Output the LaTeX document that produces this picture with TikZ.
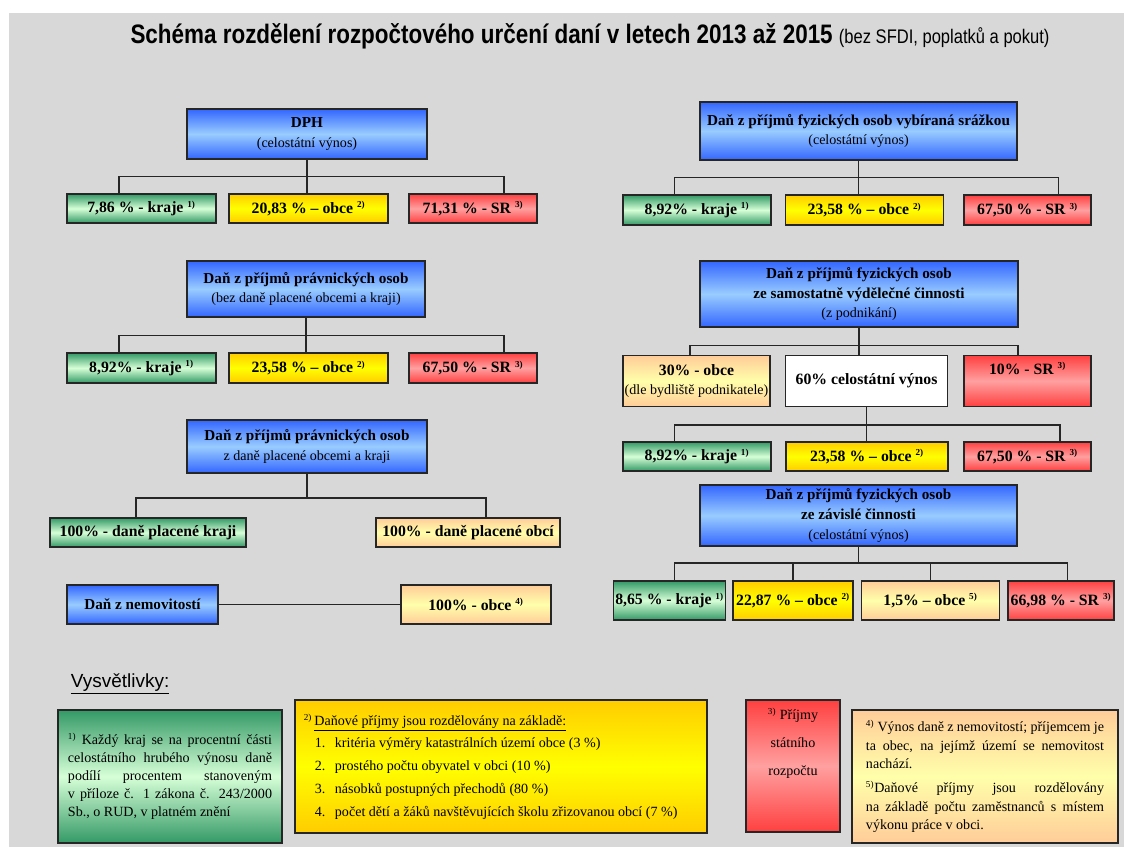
\documentclass[tikz,border=0pt]{standalone}
\usepackage{fontspec}
\setmainfont{Liberation Serif}
\newfontfamily\titlefont[FakeStretch=0.84]{Liberation Sans}
\newfontfamily\legfont{Liberation Sans}
\definecolor{bggray}{RGB}{216,216,216}
\definecolor{blueTop}{RGB}{51,102,255}
\definecolor{blueMid}{RGB}{153,204,255}
\definecolor{greenTop}{RGB}{51,153,102}
\definecolor{greenMid}{RGB}{215,255,215}
\definecolor{yellowTop}{RGB}{255,204,0}
\definecolor{yellowMid}{RGB}{255,255,0}
\definecolor{redTop}{RGB}{255,64,64}
\definecolor{redMid}{RGB}{255,160,160}
\definecolor{peachTop}{RGB}{255,204,153}
\definecolor{peachMid}{RGB}{255,255,170}
\usepackage{tikz}
\usetikzlibrary{positioning, calc}
\newcommand{\px}{0.025cm}
\newcommand{\fn}[1]{\textsuperscript{\fontsize{6.5}{7}\selectfont #1)}}
\newcommand{\pozn}[1]{{\mdseries\fontsize{10}{14}\selectfont #1}}
\newcommand{\jl}[1]{\makebox[\linewidth][s]{#1}}
\tikzset{
    box/.style={rectangle, draw=black!85, line width=0.9pt, align=center, inner sep=1pt, font=\fontsize{11.2}{14}\selectfont\bfseries},
    wh/.style 2 args={minimum width=#1*\px, minimum height=#2*\px},
    dan/.style={box, top color=blueTop, bottom color=blueTop, middle color=blueMid, font=\fontsize{10.8}{14}\selectfont\bfseries},
    kraje/.style={box, top color=greenTop, bottom color=greenTop, middle color=greenMid},
    obce/.style={box, top color=yellowTop, bottom color=yellowTop, middle color=yellowMid},
    obcep/.style={box, top color=peachTop, bottom color=peachTop, middle color=peachMid},
    sr/.style={box, top color=redTop, bottom color=redTop, middle color=redMid},
    vynos/.style={box, fill=white},
    conn/.style={line width=1pt, black!85},
    note/.style={rectangle, draw=black!85, line width=0.9pt, inner sep=0pt, font=\fontsize{10}{12.8}\selectfont}
}

\begin{document}
\begin{tikzpicture}[x=\px, y=-\px]
    \useasboundingbox (0,0) rectangle (1124,847);
    \fill[bggray] (9,13) rectangle (1124,847);

    % Title
    \node[font=\titlefont\bfseries\fontsize{19}{22}\selectfont] (title) at (590,36) {Schéma rozdělení rozpočtového určení daní v letech 2013 až 2015 {\mdseries\fontsize{14}{16}\selectfont (bez SFDI, poplatků a pokut)}};

    % DPH
    \node[dan, wh={240}{50}] (dph) at (307,134) {DPH\\ \pozn{(celostátní výnos)}};
    \node[kraje, wh={149}{29}] (kr1) at (141.5,208.5) {7,86 \% - kraje \fn{1}};
    \node[obce, wh={159}{29}] (ob1) at (308.5,208.5) {20,83 \% – obce \fn{2}};
    \node[sr, wh={128}{29}] (sr1) at (473,208.5) {71,31 \% - SR \fn{3}};

    % DPPO
    \node[dan, wh={238}{56}] (ppo) at (306,289) {Daň z příjmů právnických osob\\ \pozn{(bez daně placené obcemi a kraji)}};
    \node[kraje, wh={149}{30}] (kr2) at (141.5,368) {8,92\% - kraje \fn{1}};
    \node[obce, wh={159}{30}] (ob2) at (308.5,368) {23,58 \% – obce \fn{2}};
    \node[sr, wh={128}{30}] (sr2) at (473,368) {67,50 \% - SR \fn{3}};

    % DPPO placena obcemi a kraji
    \node[dan, wh={240}{53}] (ppo2) at (307,446.5) {Daň z příjmů právnických osob\\ \pozn{z daně placené obcemi a kraji}};
    \node[kraje, wh={196}{29}] (krd) at (148,532.5) {100\% - daně placené kraji};
    \node[obcep, wh={184}{29}] (obd) at (468,532.5) {100\% - daně placené obcí};

    % Dan z nemovitosti
    \node[dan, wh={151}{39}] (dzn) at (142.5,604.5) {Daň z nemovitostí};
    \node[obcep, wh={150}{39}] (obn) at (476,604.5) {100\% - obce \fn{4}};

    % DPFO srazkou
    \node[dan, wh={317}{58}] (fos) at (858.5,131) {Daň z příjmů fyzických osob vybíraná srážkou\\ \pozn{(celostátní výnos)}};
    \node[kraje, wh={148}{30}] (kr3) at (697,210) {8,92\% - kraje \fn{1}};
    \node[obce, wh={158}{30}] (ob3) at (864.5,210) {23,58 \% – obce \fn{2}};
    \node[sr, wh={127}{30}] (sr3) at (1027.5,210) {67,50 \% - SR \fn{3}};

    % DPFO z podnikani
    \node[dan, wh={318}{66}] (svc) at (859,294) {Daň z příjmů fyzických osob\\ ze samostatně výdělečné činnosti\\ \pozn{(z podnikání)}};
    \node[obcep, wh={147}{51}] (obb) at (696.5,381) {30\% - obce\\ \pozn{(dle bydliště podnikatele)}};
    \node[vynos, wh={162}{51}] (cv) at (866.5,381) {60\% celostátní výnos};
    \node[sr, wh={127}{51}] (srb) at (1027.5,381) {10\% - SR \fn{3}\\ \strut};
    \node[kraje, wh={148}{29}] (kr4) at (697,456.5) {8,92\% - kraje \fn{1}};
    \node[obce, wh={162}{29}] (ob4) at (867,456.5) {23,58 \% – obce \fn{2}};
    \node[sr, wh={127}{29}] (sr4) at (1027.5,456.5) {67,50 \% - SR \fn{3}};

    % DPFO ze zavisle cinnosti
    \node[dan, wh={317}{61}] (zc) at (858.5,515.5) {Daň z příjmů fyzických osob\\ ze závislé činnosti\\ \pozn{(celostátní výnos)}};
    \node[kraje, wh={111}{39}] (kr5) at (669.5,600.5) {8,65 \% - kraje \fn{1}};
    \node[obce, wh={120}{39}] (ob5) at (793,600.5) {22,87 \% – obce \fn{2}};
    \node[obcep, wh={138}{39}] (op5) at (930.5,600.5) {1,5\% – obce \fn{5}};
    \node[sr, wh={106}{39}] (sr5) at (1061,600.5) {66,98 \% - SR \fn{3}};

    % Lines
    \coordinate (b1) at ($(dph.south)+(0,17)$);
    \draw[conn] (dph) -- (b1) -- (b1 |- ob1.north);
    \draw[conn] ($(kr1.north)+(-22.5,0)$) |- (b1) -| ($(sr1.north)+(31,0)$);

    \coordinate (b2) at ($(ppo.south)+(0,18)$);
    \draw[conn] (ppo) -- (b2) -- (b2 |- ob2.north);
    \draw[conn] ($(kr2.north)+(-22.5,0)$) |- (b2) -| ($(sr2.north)+(31,0)$);

    \coordinate (b3) at ($(ppo2.south)+(0,24.5)$);
    \draw[conn] (ppo2) -- (b3);
    \draw[conn] ($(krd.north)+(-12,0)$) |- (b3) -| ($(obd.north)+(18,0)$);

    \draw[conn] (dzn) -- (obn);

    \coordinate (b4) at ($(fos.south)+(0,17)$);
    \draw[conn] (fos) -- (b4) -- (b4 |- ob3.north);
    \draw[conn] ($(kr3.north)+(-22.5,0)$) |- (b4) -| ($(sr3.north)+(31,0)$);

    \coordinate (b5) at ($(svc.south)+(0,18)$);
    \draw[conn] (svc) -- (b5) -- (b5 |- cv.north);
    \draw[conn] ($(obb.north)+(-6.5,0)$) |- (b5) -| ($(srb.north)+(-9.5,0)$);

    \coordinate (b6) at ($(cv.south)+(0,18)$);
    \draw[conn] (cv) -- (b6) -- (b6 |- ob4.north);
    \draw[conn] ($(kr4.north)+(-22.5,0)$) |- (b6) -| ($(sr4.north)+(32.5,0)$);

    \coordinate (b7) at ($(zc.south)+(0,16.5)$);
    \draw[conn] (zc) -- (b7);
    \draw[conn] ($(kr5.north)+(5,0)$) |- (b7) -| ($(sr5.north)+(6.5,0)$);
    \draw[conn] (ob5.north) |- (b7);
    \draw[conn] (op5.north) |- (b7);

    % Legend
    \node[font=\legfont\fontsize{13.5}{15}\selectfont, anchor=west] (vys) at (66,684) {\underline{Vysvětlivky:}};

    \node[note, kraje, font=\fontsize{10}{12.8}\selectfont\mdseries, wh={224}{133}, align=left] (lg1) at (170,776.5) {\parbox{5.1cm}{%
        \jl{\fn{1} Každý kraj se na procentní části}\\
        \jl{celostátního hrubého výnosu daně}\\
        \jl{podílí procentem stanoveným}\\
        \jl{v příloze č. 1 zákona č. 243/2000}\\
        Sb., o RUD, v platném znění}};

    \node[note, obce, font=\fontsize{10}{16.2}\selectfont\mdseries, wh={412}{133}, align=left] (lg2) at (501,766.5) {\parbox{9.3cm}{%
        \hspace*{-0.28cm}\fn{2}\,\underline{Daňové příjmy jsou rozdělovány na základě:}\\
        \makebox[0.5cm][l]{1.}kritéria výměry katastrálních území obce (3 \%)\\
        \makebox[0.5cm][l]{2.}prostého počtu obyvatel v obci (10 \%)\\
        \makebox[0.5cm][l]{3.}násobků postupných přechodů (80 \%)\\
        \makebox[0.5cm][l]{4.}počet dětí a žáků navštěvujících školu zřizovanou obcí (7 \%)}};

    \node[note, sr, font=\fontsize{10}{19.8}\selectfont\mdseries, wh={94}{132}] (lg3) at (793,766) {\parbox[c][2.9cm][t]{2.2cm}{\centering
        \fn{3} Příjmy\\ státního\\ rozpočtu}};

    \node[note, obcep, font=\fontsize{10}{13.2}\selectfont\mdseries, wh={266}{133}, align=left] (lg4) at (985,776.5) {\parbox{5.95cm}{%
        \jl{\fn{4} Výnos daně z nemovitostí; příjemcem je}\\
        \jl{ta obec, na jejímž území se nemovitost}\\
        nachází.\\[4pt]
        \jl{\fn{5}Daňové příjmy jsou rozdělovány}\\
        \jl{na základě počtu zaměstnanců s místem}\\
        výkonu práce v obci.}};
\end{tikzpicture}
\end{document}
